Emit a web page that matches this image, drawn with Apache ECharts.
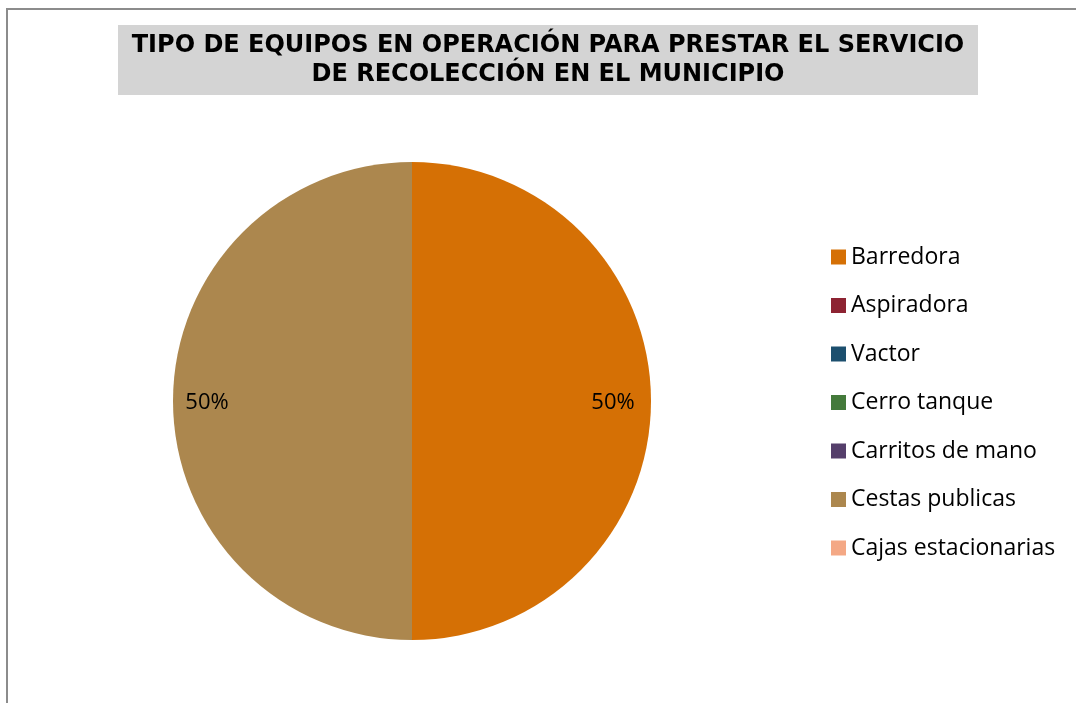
<!DOCTYPE html>
<html>
<head>
<meta charset="utf-8">
<script src="https://cdn.jsdelivr.net/npm/echarts@6/dist/echarts.min.js"></script>
<style>
  html, body { margin: 0; padding: 0; background: #fff; }
  #frame {
    position: absolute;
    left: 6px;
    top: 8px;
    width: 1200px;
    height: 800px;
    border-left: 2px solid #8c8c8c;
    border-top: 2px solid #8c8c8c;
  }
  #chart { position: absolute; left: 0; top: 0; width: 1076px; height: 703px; }
</style>
</head>
<body>
<div id="frame"></div>
<div id="chart"></div>
<script>
// datos del grafico
const titleLines = [
  'TIPO DE EQUIPOS EN OPERACIÓN PARA PRESTAR EL SERVICIO',
  'DE RECOLECCIÓN EN EL MUNICIPIO'
]
const categories = ['Barredora', 'Aspiradora', 'Vactor', 'Cerro tanque', 'Carritos de mano', 'Cestas publicas', 'Cajas estacionarias']
const values = [50, 0, 0, 0, 0, 50, 0]
const colors = ['#d57005', '#8d2332', '#1c4f6e', '#447a3b', '#553f6b', '#ac874e', '#f4a885']

const chart = echarts.init(document.getElementById('chart'))

const total = values.reduce((a, b) => a + b, 0)
const pieData = categories.map((name, i) => ({ name: name, value: values[i] }))
const labelData = categories.map((name, i) => ({
  name: name,
  value: values[i],
  label: { show: values[i] > 0 }
}))

chart.setOption({
  animation: false,
  color: colors,
  graphic: [
    {
      type: 'rect',
      shape: { x: 118, y: 25, width: 860, height: 70 },
      style: { fill: '#d4d4d4' },
      silent: true
    },
    {
      type: 'text',
      style: {
        x: 548,
        y: 31,
        text: titleLines.join('\n'),
        textAlign: 'center',
        textVerticalAlign: 'top',
        font: 'bold 24px "DejaVu Sans", sans-serif',
        lineHeight: 29,
        fill: '#000'
      },
      silent: true
    }
  ],
  legend: {
    orient: 'vertical',
    left: 831,
    top: 245,
    padding: 0,
    icon: 'rect',
    itemWidth: 15,
    itemHeight: 15,
    itemGap: 24.5,
    data: categories,
    textStyle: {
      fontFamily: '"Open Sans"',
      fontSize: 23,
      lineHeight: 24,
      color: '#000',
      padding: [0, 0, 0, 0]
    },
    selectedMode: false
  },
  series: [
    {
      type: 'pie',
      center: [412, 401],
      radius: [0, 239],
      startAngle: 90,
      clockwise: true,
      minAngle: 0,
      avoidLabelOverlap: false,
      label: { show: false },
      labelLine: { show: false },
      itemStyle: { borderWidth: 0 },
      emphasis: { disabled: true },
      data: pieData
    },
    {
      type: 'pie',
      center: [410, 403],
      radius: [160, 240],
      startAngle: 90,
      clockwise: true,
      silent: true,
      avoidLabelOverlap: false,
      itemStyle: { color: 'rgba(0,0,0,0)' },
      labelLine: { show: false },
      label: {
        position: 'inside',
        fontFamily: '"Open Sans"',
        fontSize: 22,
        color: '#000',
        formatter: p => Math.round(p.value / total * 100) + '%'
      },
      emphasis: { disabled: true },
      data: labelData
    }
  ]
})
</script>
</body>
</html>
